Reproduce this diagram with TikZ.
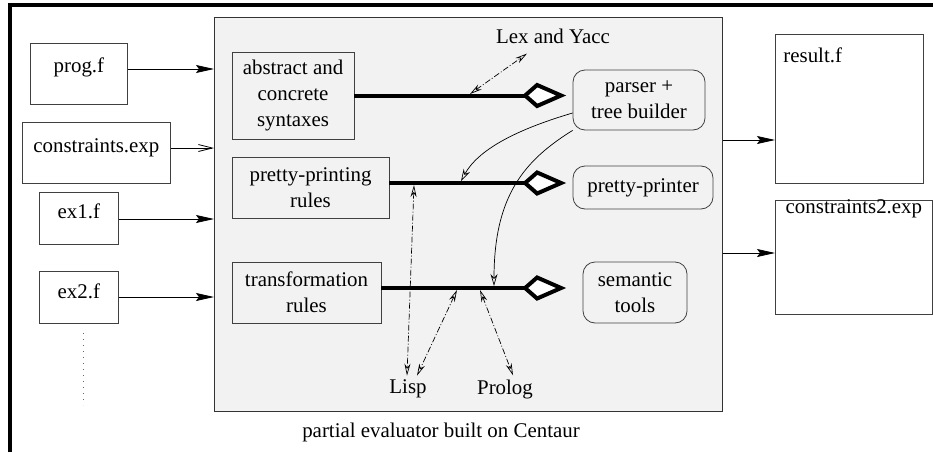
\documentclass[tikz,border=0pt]{standalone}
\usepackage{fontspec}
\setmainfont{Liberation Serif}
\usetikzlibrary{arrows.meta}

\begin{document}
\begin{tikzpicture}
    [x=1pt, y=-1pt,
      font=\rmfamily\fontsize{20.9}{26}\selectfont,
      filebox/.style={draw=black!75, line width=.8pt, fill=white, inner sep=0pt, anchor=north west},
      rulebox/.style={draw=black!75, line width=.8pt, fill=gray!10, align=center, inner sep=0pt},
      toolbox/.style={rulebox, rounded corners=12pt},
      tag/.style={inner sep=4pt},
      feed/.style={line width=.8pt, -{Stealth[length=18pt, width=8pt, inset=3pt]}},
      bus/.style={line width=4pt, shorten >=47.5pt},
      kite/.pic={\draw[line width=4pt, line join=miter, fill=white] (0,0) -- (12,-10.5) -- (36,0) -- (12,10.5) -- cycle;},
      call/.style={line width=.7pt, dash pattern=on 6pt off 2pt on 1pt off 2pt,
        {Stealth[open, length=12pt, width=6pt]}-{Stealth[open, length=12pt, width=6pt]}},
      link/.style={line width=.7pt, -{Stealth[open, length=12pt, width=7pt]}}]
    \useasboundingbox (0,0) rectangle (933,452);
    \draw[line width=3.5pt] (10,452) -- (10,5) -- (933,5);
    \node[draw=black!80, line width=.8pt, fill=gray!10, minimum width=508pt, minimum height=394pt,
      anchor=north west] (centaur) at (214,17) {};
    \node (caption) at (441,432) {partial evaluator built on Centaur};

    \node[filebox, minimum width=97pt, text height=29pt, text depth=32pt] (prog) at (30,43) {prog.f};
    \node[filebox, minimum width=148pt, text height=30pt, text depth=31pt] (cons) at (22,122) {constraints.exp};
    \node[filebox, minimum width=79pt, text height=26pt, text depth=26pt] (exone) at (39,192) {ex1.f};
    \node[filebox, minimum width=79pt, text height=27pt, text depth=25pt] (extwo) at (39,271) {ex2.f};
    \draw[black!60, line width=.8pt, dash pattern=on .8pt off 5.2pt] (83,333) -- (83,405);

    \node[filebox, text width=132pt, inner xsep=8pt, align=left, text height=28pt, text depth=121pt]
      (result) at (775,34) {result.f};
    \node[filebox, minimum width=157pt, text height=13pt, text depth=101pt] (constwo) at (775,200) {constraints2.exp};

    \node[rulebox, minimum width=122pt, minimum height=87pt] (syntax) at (293,95.5) {abstract and\\concrete\\syntaxes};
    \node[rulebox, minimum width=157pt, minimum height=61pt] (pprules) at (310.5,187.5) {pretty-printing\\rules};
    \node[rulebox, minimum width=149pt, minimum height=61pt] (trules) at (306.5,292.5) {transformation\\rules};
    \node[toolbox, minimum width=132pt, minimum height=60pt] (parser) at (639,100) {parser +\\tree builder};
    \node[toolbox, minimum width=140pt, minimum height=43pt] (printer) at (643,187.5) {pretty-printer};
    \node[toolbox, minimum width=104pt, minimum height=61pt] (semtools) at (635,292.5) {semantic\\tools};

    \node[tag] (lex) at (553,36) {Lex and Yacc};
    \node[tag] (lisp) at (408,389) {Lisp};
    \node[tag] (prolog) at (505,389) {Prolog};

    \coordinate (lexfoot) at (470,94);
    \coordinate (ppfoot) at (414,185);
    \coordinate (ppin) at (461,181);
    \coordinate (trin) at (494,286);
    \coordinate (lispfoot) at (457,290);
    \coordinate (prologfoot) at (480,290);

    \draw[feed] (prog.east |- 0,69) -- (centaur.west |- 0,69);
    \draw[line width=.8pt, -{Straight Barb[length=14pt, width=7pt]}] (cons.east |- 0,148) -- (centaur.west |- 0,148);
    \draw[feed] (exone.east |- 0,219) -- (centaur.west |- 0,219);
    \draw[feed] (extwo.east |- 0,297) -- (centaur.west |- 0,297);
    \draw[feed] (centaur.east |- 0,140) -- (result.west |- 0,140);
    \draw[feed] (centaur.east |- 0,253) -- (constwo.west |- 0,253);

    \draw[bus] (syntax.east) -- (syntax.east -| parser.west);
    \pic[xshift=-47.5pt] at (syntax.east -| parser.west) {kite};
    \draw[bus] ([yshift=4.5pt]pprules.east) -- ([yshift=4.5pt]pprules.east -| parser.west);
    \pic[xshift=-47.5pt] at ([yshift=4.5pt]pprules.east -| parser.west) {kite};
    \draw[bus] ([yshift=4.5pt]trules.east) -- ([yshift=4.5pt]trules.east -| parser.west);
    \pic[xshift=-47.5pt] at ([yshift=4.5pt]trules.east -| parser.west) {kite};

    \draw[link] ([yshift=-13pt]parser.west) .. controls (515,130) and (478,150) .. (ppin);
    \draw[link] (parser.south west) .. controls (525,160) and (494,195) .. (trin);

    \draw[call] (lexfoot) -- ([xshift=-26pt, yshift=-6pt]lex.south);
    \draw[call] (ppfoot) -- ([xshift=-1pt]lisp.north);
    \draw[call] (lispfoot) -- ([xshift=9pt]lisp.north);
    \draw[call] (prologfoot) -- ([xshift=8pt]prolog.north);
\end{tikzpicture}
\end{document}
